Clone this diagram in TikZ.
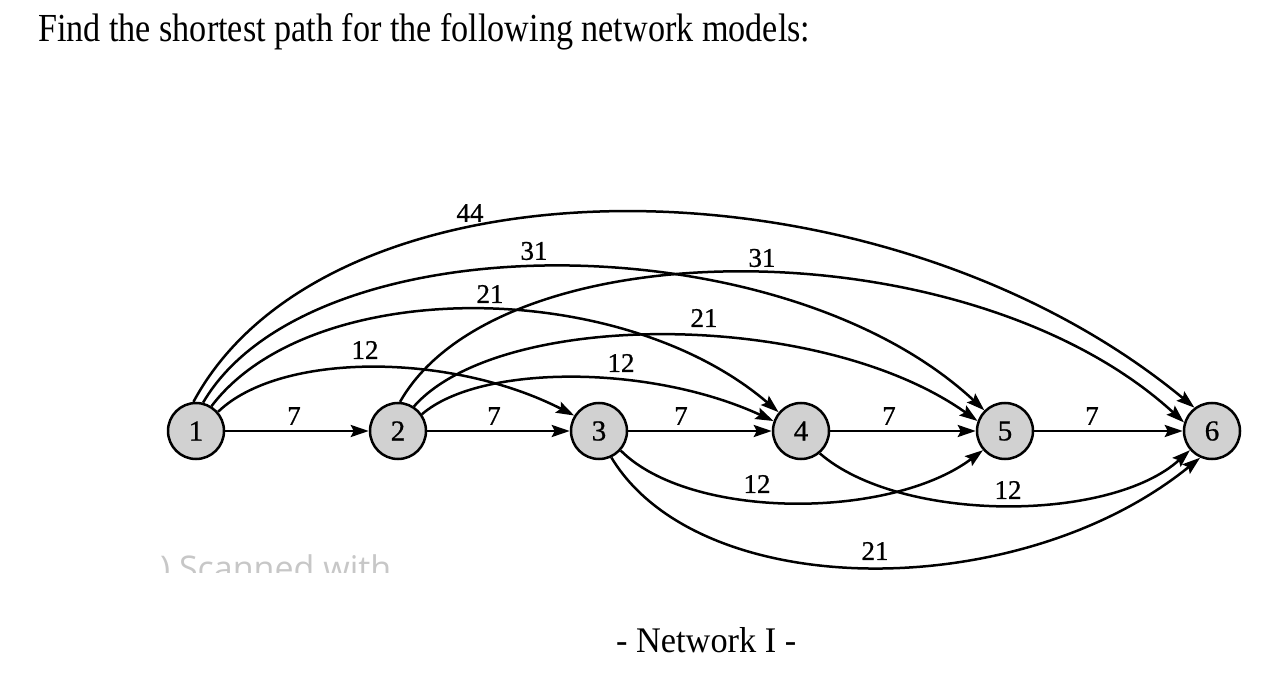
\documentclass[tikz,border=0pt]{standalone}
\usepackage{graphicx}
\usepackage{fontspec}
\setmainfont{Liberation Serif}
\newfontfamily\numfont{Liberation Serif}[FakeBold=0.8]
\newfontfamily\wmfont{Open Sans}
\usetikzlibrary{arrows.meta}
\begin{document}
\begin{tikzpicture}[x=1pt,y=-1pt,
  vertex/.style={circle,draw=black,line width=2.5pt,fill=black!18,minimum size=56pt,inner sep=0pt,font=\numfont\fontsize{29}{29}\selectfont},
  arc/.style={line width=2.5pt,-{Stealth[length=18pt,width=12pt,inset=3pt]}},
  wt/.style={font=\numfont\fontsize{27}{27}\selectfont,inner sep=0pt}]
\useasboundingbox[fill=white] (0,0) rectangle (1272,684);

% title and caption
\node[anchor=base west,inner sep=0pt] (title) at (38,42)
  {\resizebox{772pt}{28pt}{Find the shortest path for the following network models:}};
\node[anchor=base west,inner sep=0pt] (caption) at (616,652)
  {\resizebox{180pt}{25pt}{- Network I -}};

% faint scan watermark
\begin{scope}
\clip (150,540) rectangle (420,572);
\node[anchor=base west,inner sep=0pt,text=black!22,font=\wmfont\fontsize{34}{34}\selectfont] (wm) at (160,580) {) Scanned with};
\end{scope}

% nodes
\node[vertex] (n1) at (196,431) {1};
\node[vertex] (n2) at (398,431) {2};
\node[vertex] (n3) at (599,431) {3};
\node[vertex] (n4) at (801,431) {4};
\node[vertex] (n5) at (1005,431) {5};
\node[vertex] (n6) at (1212,431) {6};

% straight arcs
\draw[arc] (n1) -- (n2);
\draw[arc] (n2) -- (n3);
\draw[arc] (n3) -- (n4);
\draw[arc] (n4) -- (n5);
\draw[arc] (n5) -- (n6);

% upper arcs from 1
\draw[arc] (n1.41) .. controls (280,352) and (450,352) .. (n3.148);
\draw[arc] (n1.58) .. controls (310,276) and (620,276) .. (n4.140);
\draw[arc] (n1.76) .. controls (310,220) and (780,220) .. (n5.135);
\draw[arc] (n1.95) .. controls (330,148) and (880,148) .. (n6.127);

% upper arcs from 2
\draw[arc] (n2.35) .. controls (480,364) and (650,364) .. (n4.160);
\draw[arc] (n2.57) .. controls (500,309) and (820,309) .. (n5.160);
\draw[arc] (n2.86) .. controls (500,226) and (970,226) .. (n6.163);

% lower arcs
\draw[arc] (n3.-42) .. controls (690,520) and (890,520) .. (n5.221);
\draw[arc] (n4.-50) .. controls (900,523) and (1110,523) .. (n6.221);
\draw[arc] (n3.-65) .. controls (700,604) and (1020,604) .. (n6.246);

% weights
\node[wt] (w12) at (294,416) {7};
\node[wt] (w23) at (494,416) {7};
\node[wt] (w34) at (681,416) {7};
\node[wt] (w45) at (889,416) {7};
\node[wt] (w56) at (1092,416) {7};
\node[wt] (w13) at (365,350) {12};
\node[wt] (w14) at (490,294) {21};
\node[wt] (w15) at (534,251) {31};
\node[wt] (w16) at (470,213) {44};
\node[wt] (w24) at (621,363) {12};
\node[wt] (w25) at (704,318) {21};
\node[wt] (w26) at (762,258) {31};
\node[wt] (w35) at (757,484) {12};
\node[wt] (w46) at (1008,490) {12};
\node[wt] (w36) at (875,551) {21};
\end{tikzpicture}
\end{document}
